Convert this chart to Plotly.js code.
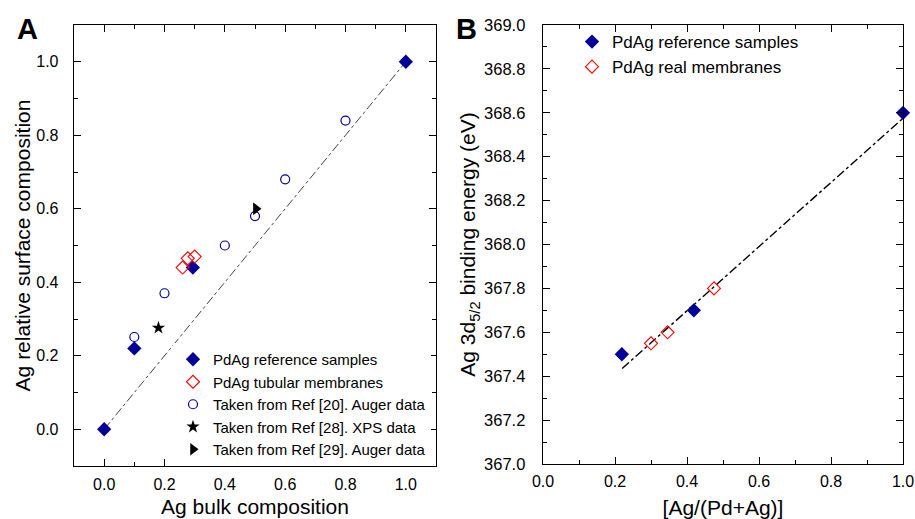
<!DOCTYPE html>
<html>
<head>
<meta charset="utf-8">
<script src="https://cdn.plot.ly/plotly-3.0.1.min.js"></script>
<style>html,body{margin:0;padding:0;background:#fff;}#chart{width:915px;height:519px;}</style>
</head>
<body>
<div id="chart"></div>
<script>
// Panel A data
const refX_A = [0.0, 0.1, 0.294, 1.0];
const refY_A = [0.0, 0.22, 0.44, 1.0];
const tubX_A = [0.26, 0.277, 0.30];
const tubY_A = [0.44, 0.465, 0.47];
const ref20X = [0.1, 0.2, 0.4, 0.5, 0.6, 0.8];
const ref20Y = [0.251, 0.37, 0.50, 0.58, 0.68, 0.84];
const ref28X = [0.18];
const ref28Y = [0.276];
const ref29X = [0.503];
const ref29Y = [0.60];
const lineX_A = [0.0, 1.0];
const lineY_A = [0.0, 1.0];

// Panel B data
const refX_B = [0.219, 0.419, 1.0];
const refY_B = [367.50, 367.70, 368.60];
const realX_B = [0.30, 0.346, 0.475];
const realY_B = [367.55, 367.60, 367.80];
const lineX_B = [0.22, 1.0];
const lineY_B = [367.435, 368.575];

const navy = '#000099';
const FONT = 'Liberation Sans, Arial, sans-serif';

const traces = [
  {x: lineX_A, y: lineY_A, mode: 'lines', line: {color: '#444', width: 1, dash: 'dashdot'}, showlegend: false, xaxis: 'x', yaxis: 'y', hoverinfo: 'skip'},
  {x: refX_A, y: refY_A, mode: 'markers', name: 'PdAg reference samples', marker: {symbol: 'diamond', size: 11, color: navy}, xaxis: 'x', yaxis: 'y', legend: 'legend'},
  {x: tubX_A, y: tubY_A, mode: 'markers', name: 'PdAg tubular membranes', marker: {symbol: 'diamond-open', size: 10, color: '#ff0000', line: {width: 1.1}}, xaxis: 'x', yaxis: 'y', legend: 'legend'},
  {x: ref20X, y: ref20Y, mode: 'markers', name: 'Taken from Ref [20]. Auger data', marker: {symbol: 'circle-open', size: 9, color: navy, line: {width: 1.2}}, xaxis: 'x', yaxis: 'y', legend: 'legend'},
  {x: ref28X, y: ref28Y, mode: 'markers', name: 'Taken from Ref [28]. XPS data', marker: {symbol: 'star', size: 10, color: '#000'}, xaxis: 'x', yaxis: 'y', legend: 'legend'},
  {x: ref29X, y: ref29Y, mode: 'markers', name: 'Taken from Ref [29]. Auger data', marker: {symbol: 'triangle-right', size: 11, color: '#000'}, xaxis: 'x', yaxis: 'y', legend: 'legend'},

  {x: lineX_B, y: lineY_B, mode: 'lines', line: {color: '#000', width: 1.4, dash: 'dashdot'}, showlegend: false, xaxis: 'x2', yaxis: 'y2', hoverinfo: 'skip'},
  {x: refX_B, y: refY_B, mode: 'markers', name: 'PdAg reference samples', marker: {symbol: 'diamond', size: 11, color: navy}, xaxis: 'x2', yaxis: 'y2', legend: 'legend2', cliponaxis: false},
  {x: realX_B, y: realY_B, mode: 'markers', name: 'PdAg real membranes', marker: {symbol: 'diamond-open', size: 10, color: '#ff0000', line: {width: 1.1}}, xaxis: 'x2', yaxis: 'y2', legend: 'legend2'}
];

function minorTicks(t0) {
  return {ticks: 'inside', ticklen: 4, tickwidth: 1, tickcolor: '#000', dtick: 0.1, tick0: t0, showgrid: false};
}

function axisBase(extra) {
  return Object.assign({
    showline: true, linecolor: '#000', linewidth: 1.3, mirror: 'ticks',
    ticks: 'inside', ticklen: 7, tickwidth: 1, tickcolor: '#000',
    showgrid: false, zeroline: false, tickformat: '.1f',
    tickfont: {family: FONT, size: 16, color: '#000'},
    automargin: false, fixedrange: true
  }, extra);
}

const titleFont = {family: FONT, size: 21, color: '#000'};

const layout = {
  width: 915, height: 519,
  margin: {l: 0, r: 0, t: 0, b: 0},
  paper_bgcolor: '#fff', plot_bgcolor: '#fff',
  font: {family: FONT, color: '#000'},
  xaxis: axisBase({domain: [74/915, 436/915], range: [-0.1, 1.1], tick0: 0, dtick: 0.2, minor: minorTicks(0), anchor: 'y',
    ticklabelstandoff: 3,
    title: {text: 'Ag bulk composition', font: titleFont, standoff: 7}}),
  yaxis: axisBase({domain: [1 - 466/519, 1 - 25/519], range: [-0.1, 1.1], tick0: 0, dtick: 0.2, minor: minorTicks(0), anchor: 'x',
    ticklabelstandoff: 11,
    title: {text: 'Ag relative surface composition', font: titleFont, standoff: 0}}),
  xaxis2: axisBase({domain: [543/915, 903/915], range: [0, 1], tick0: 0, dtick: 0.2, minor: minorTicks(0), anchor: 'y2',
    ticklabelstandoff: 2,
    title: {text: '[Ag/(Pd+Ag)]', font: titleFont, standoff: 13}}),
  yaxis2: axisBase({domain: [1 - 464/519, 1 - 25/519], range: [367, 369], tick0: 367, dtick: 0.2, minor: minorTicks(367), anchor: 'x2',
    ticklabelstandoff: 13,
    tickfont: {family: FONT, size: 16.5, color: '#000'},
    title: {text: 'Ag 3d<sub>5/2</sub> binding energy (eV)', font: titleFont, standoff: 2}}),
  legend: {x: 173/915, y: 1 - 343/519, xanchor: 'left', yanchor: 'top', bgcolor: '#fff', borderwidth: 0,
    font: {family: FONT, size: 15, color: '#000'}, tracegroupgap: 0, itemclick: false, itemdoubleclick: false},
  legend2: {x: 572/915, y: 1 - 24/519, xanchor: 'left', yanchor: 'top', bgcolor: 'rgba(0,0,0,0)', borderwidth: 0,
    font: {family: FONT, size: 17, color: '#000'}, tracegroupgap: 0, itemclick: false, itemdoubleclick: false},
  annotations: [
    {text: '<b>A</b>', x: 27/915, y: 1 - 29/519, xref: 'paper', yref: 'paper', showarrow: false, font: {family: FONT, size: 29, color: '#000'}, xanchor: 'center', yanchor: 'middle'},
    {text: '<b>B</b>', x: 467/915, y: 1 - 29/519, xref: 'paper', yref: 'paper', showarrow: false, font: {family: FONT, size: 29, color: '#000'}, xanchor: 'center', yanchor: 'middle'}
  ],
  showlegend: true
};

Plotly.newPlot('chart', traces, layout, {displayModeBar: false, staticPlot: true});
</script>
</body>
</html>
